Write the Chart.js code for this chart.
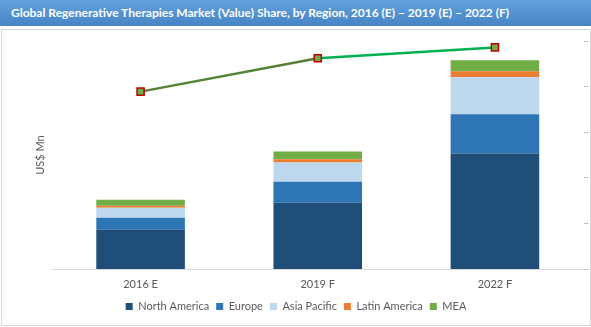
<!DOCTYPE html>
<html>
<head>
<meta charset="utf-8">
<script src="https://cdn.jsdelivr.net/npm/chart.js@4"></script>
<style>
  html, body { margin: 0; padding: 0; background: #fff; }
  body { width: 591px; height: 327px; position: relative; overflow: hidden; font-family: Lato, "Open Sans", sans-serif; }
  #title {
    position: absolute; left: 0; top: 0; width: 591px; height: 26px;
    background: linear-gradient(#62a2dd, #4684c5);
    color: #fff; font-weight: bold; font-size: 12px; line-height: 25px;
    padding-left: 11px; box-sizing: border-box; white-space: nowrap;
  }
  #box {
    position: absolute; left: 1px; top: 29px; width: 588px; height: 295px;
    border: 1px solid #d9d9d9;
  }
  #chart { display: block; }
</style>
</head>
<body>
<div id="title">Global Regenerative Therapies Market (Value) Share, by Region, 2016 (E) – 2019 (E) – 2022 (F)</div>
<div id="box"><canvas id="chart" width="588" height="295"></canvas></div>
<script>
// -----------------------
// Data
// -----------------------
const years = ['2016 E', '2019 F', '2022 F'];
const northAmerica = [430, 727, 1266];
const europe = [132, 231, 430];
const asiaPacific = [110, 209, 407];
const latinAmerica = [22, 36, 66];
const mea = [66, 85, 121];
const totalLine = [77.8, 92.4, 97.2];

const leftTicks = { min: 0, max: 2500, step: 500 };
const rightTicks = { min: 0, max: 100, step: 20 };

// -----------------------
// Chart
// -----------------------
const font = { family: 'Lato, "Open Sans", sans-serif', size: 11 };
const grey = '#595959';

function bar(label, data, color) {
  return { type: 'bar', label, data, backgroundColor: color, stack: 's', yAxisID: 'y', order: 1,
    barPercentage: 1, categoryPercentage: 0.5 };
}

new Chart(document.getElementById('chart'), {
  data: {
    labels: years,
    datasets: [
      {
        type: 'line', label: 'Total', data: totalLine, yAxisID: 'y2', order: 0,
        borderWidth: 2.5,
        segment: { borderColor: ctx => ctx.p0DataIndex === 0 ? '#548235' : '#00b050' },
        pointStyle: 'rect', pointRadius: 5, pointBorderWidth: 1.5,
        pointBackgroundColor: '#70ad47', pointBorderColor: '#c00000'
      },
      bar('North America', northAmerica, '#1f4e79'),
      bar('Europe', europe, '#2e75b6'),
      bar('Asia Pacific', asiaPacific, '#bdd7ee'),
      bar('Latin America', latinAmerica, '#ed7d31'),
      bar('MEA', mea, '#70ad47')
    ]
  },
  options: {
    responsive: false,
    animation: false,
    layout: { padding: { top: 11, bottom: 3, left: 0, right: 0 } },
    plugins: {
      tooltip: { enabled: false },
      legend: {
        position: 'bottom',
        labels: {
          filter: item => item.text !== 'Total',
          boxWidth: 7, boxHeight: 7, padding: 7,
          color: grey, font
        }
      }
    },
    scales: {
      x: {
        stacked: true,
        grid: { display: false },
        border: { color: '#d9d9d9', width: 1 },
        ticks: { color: grey, font, padding: 1 },
        afterFit: s => { s.height = 25; }
      },
      y: {
        stacked: true,
        position: 'left',
        min: leftTicks.min, max: leftTicks.max,
        ticks: { display: false, stepSize: leftTicks.step },
        grid: { display: false },
        border: { display: false },
        title: { display: true, text: 'US$ Mn', color: grey, font, padding: { top: 32, bottom: 0 } },
        afterFit: s => { s.width = 50; }
      },
      y2: {
        position: 'right',
        min: rightTicks.min, max: rightTicks.max,
        ticks: { display: false, stepSize: rightTicks.step },
        grid: { drawOnChartArea: false, drawTicks: true, tickLength: 5, color: '#bfbfbf' },
        border: { display: false },
        afterFit: s => { s.width = 5; }
      }
    }
  }
});
</script>
</body>
</html>
